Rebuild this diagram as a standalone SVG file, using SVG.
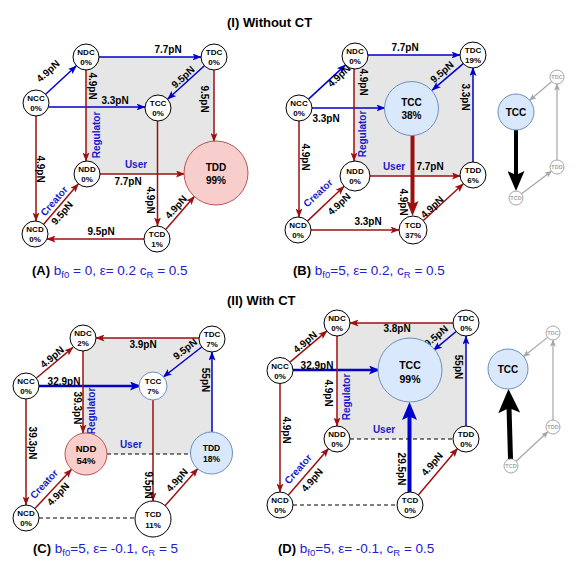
<svg xmlns="http://www.w3.org/2000/svg" width="581" height="571" viewBox="0 0 581 571">
<defs>
<style>
.bg{fill:#fff}
.sh{fill:#e6e6e6;stroke:none}
.n{fill:#fff;stroke:#000;stroke-width:1}
.np{fill:#f8cecc;stroke:#b85450;stroke-width:1}
.nb{fill:#dae8fc;stroke:#6c8ebf;stroke-width:1}
.nw{fill:#fff;stroke:#6c8ebf;stroke-width:1}
.ng{fill:#fff;stroke:#a6a6a6;stroke-width:1}
.nl{font-family:"Liberation Sans",Arial,sans-serif;font-weight:bold;font-size:8px;text-anchor:middle;fill:#000}
.nL{font-family:"Liberation Sans",Arial,sans-serif;font-weight:bold;font-size:10px;text-anchor:middle;fill:#000}
.ngl{font-family:"Liberation Sans",Arial,sans-serif;font-weight:bold;font-size:5.5px;text-anchor:middle;dominant-baseline:central;fill:#a6a6a6}
.t{font-family:"Liberation Sans",Arial,sans-serif;font-weight:bold;font-size:10px;text-anchor:middle;dominant-baseline:central;fill:#000}
.ro{font-family:"Liberation Sans",Arial,sans-serif;font-weight:bold;font-size:10px;text-anchor:middle;dominant-baseline:central;fill:#1a1acc}
.ti{font-family:"Liberation Sans",Arial,sans-serif;font-weight:bold;font-size:13px;fill:#000}
.cap{font-family:"Liberation Sans",Arial,sans-serif;font-size:13.5px;fill:#2020d0}
.capk{font-weight:bold;font-size:13px;fill:#000}
.sub{font-size:9.5px}
.r{stroke:#9c1010;stroke-width:1.5;fill:none;marker-end:url(#ar)}
.b{stroke:#0000cc;stroke-width:1.5;fill:none;marker-end:url(#ab)}
.b2{stroke:#0000cc;stroke-width:2.5;fill:none;marker-end:url(#ab2)}
.rT{stroke:#9c1010;stroke-width:4;fill:none;marker-end:url(#arL)}
.bT{stroke:#0000cc;stroke-width:4;fill:none;marker-end:url(#abL)}
.kT{stroke:#000;stroke-width:4;fill:none;marker-end:url(#akL)}
.kT2{stroke:#000;stroke-width:5;fill:none;marker-end:url(#akL2)}
.g{stroke:#a6a6a6;stroke-width:1.2;fill:none;marker-end:url(#ag)}
.d{stroke:#000;stroke-width:1.2;stroke-dasharray:4 3;fill:none}
</style>
<marker id="ar" viewBox="0 0 9 7" refX="8.5" refY="3.5" markerWidth="9" markerHeight="7" markerUnits="userSpaceOnUse" orient="auto"><path d="M0,0 L9,3.5 L0,7 L2,3.5 z" fill="#9c1010"/></marker>
<marker id="ab" viewBox="0 0 9 7" refX="8.5" refY="3.5" markerWidth="9" markerHeight="7" markerUnits="userSpaceOnUse" orient="auto"><path d="M0,0 L9,3.5 L0,7 L2,3.5 z" fill="#0000cc"/></marker>
<marker id="ab2" viewBox="0 0 11 9" refX="9" refY="4.5" markerWidth="11" markerHeight="9" markerUnits="userSpaceOnUse" orient="auto"><path d="M0,0 L11,4.5 L0,9 L2.5,4.5 z" fill="#0000cc"/></marker>
<marker id="ag" viewBox="0 0 7 6" refX="6.5" refY="3" markerWidth="7" markerHeight="6" markerUnits="userSpaceOnUse" orient="auto"><path d="M0,0 L7,3 L0,6 L1.5,3 z" fill="#a6a6a6"/></marker>
<marker id="arL" viewBox="0 0 15 12" refX="4" refY="6" markerWidth="15" markerHeight="12" markerUnits="userSpaceOnUse" orient="auto"><path d="M0,0 L15,6 L0,12 L3,6 z" fill="#9c1010"/></marker>
<marker id="abL" viewBox="0 0 18 15" refX="5" refY="7.5" markerWidth="18" markerHeight="15" markerUnits="userSpaceOnUse" orient="auto"><path d="M0,0 L18,7.5 L0,15 L3.5,7.5 z" fill="#0000cc"/></marker>
<marker id="akL" viewBox="0 0 20 17" refX="5" refY="8.5" markerWidth="20" markerHeight="17" markerUnits="userSpaceOnUse" orient="auto"><path d="M0,0 L20,8.5 L0,17 L4,8.5 z" fill="#000"/></marker>
<marker id="akL2" viewBox="0 0 24 22" refX="6" refY="11" markerWidth="24" markerHeight="22" markerUnits="userSpaceOnUse" orient="auto"><path d="M0,0 L24,11 L0,22 L5,11 z" fill="#000"/></marker>
</defs>
<rect class="bg" x="0" y="0" width="581" height="571"/>

<!-- titles and captions -->
<text class="ti" x="227" y="27">(I) Without CT</text>
<text class="ti" x="227" y="305">(II) With CT</text>
<text class="cap" x="32" y="275"><tspan class="capk">(A)</tspan> b<tspan class="sub" dy="3">f0</tspan><tspan dy="-3"> = 0, ε= 0.2 c</tspan><tspan class="sub" dy="3">R</tspan><tspan dy="-3"> = 0.5</tspan></text>
<text class="cap" x="293" y="275"><tspan class="capk">(B)</tspan> b<tspan class="sub" dy="3">f0</tspan><tspan dy="-3">=5, ε= 0.2, c</tspan><tspan class="sub" dy="3">R</tspan><tspan dy="-3"> = 0.5</tspan></text>
<text class="cap" x="33" y="553"><tspan class="capk">(C)</tspan> b<tspan class="sub" dy="3">f0</tspan><tspan dy="-3">=5, ε= -0.1, c</tspan><tspan class="sub" dy="3">R</tspan><tspan dy="-3"> = 5</tspan></text>
<text class="cap" x="278" y="553"><tspan class="capk">(D)</tspan> b<tspan class="sub" dy="3">f0</tspan><tspan dy="-3">=5, ε= -0.1, c</tspan><tspan class="sub" dy="3">R</tspan><tspan dy="-3"> = 0.5</tspan></text>

<!-- shaded faces -->
<rect class="sh" x="86" y="57" width="128" height="117"/>
<rect class="sh" x="354" y="55" width="119" height="121"/>
<rect class="sh" x="83" y="338" width="129" height="116"/>
<rect class="sh" x="337" y="323" width="129" height="116"/>

<g id="connectors">
<!-- Panel A -->
<line class="b" x1="45.6" y1="94.2" x2="76.4" y2="65.8"/>
<line class="b" x1="99" y1="57" x2="201" y2="57"/>
<line class="b" x1="204.4" y1="65.8" x2="167.6" y2="99.2"/>
<line class="b" x1="48.5" y1="107" x2="145" y2="107"/>
<line class="r" x1="86" y1="70" x2="86" y2="161"/>
<line class="r" x1="214" y1="70" x2="214" y2="141.5"/>
<line class="r" x1="36" y1="115" x2="36" y2="221"/>
<line class="r" x1="157.5" y1="121" x2="157.5" y2="226"/>
<line class="r" x1="100" y1="174" x2="184.5" y2="174"/>
<line class="r" x1="43.6" y1="224.2" x2="78.4" y2="183.8"/>
<line class="r" x1="144" y1="239" x2="47" y2="239"/>
<line class="r" x1="165.7" y1="229.4" x2="194.5" y2="196.3"/>
<!-- Panel B -->
<line class="b" x1="308.5" y1="99.1" x2="345.5" y2="64.9"/>
<line class="b" x1="368" y1="55" x2="460" y2="55"/>
<line class="b" x1="463.3" y1="63.6" x2="432.2" y2="90.1"/>
<line class="b" x1="312" y1="108" x2="385" y2="108"/>
<line class="r" x1="354" y1="69" x2="354" y2="161"/>
<line class="b" x1="473" y1="162.5" x2="473" y2="67.5"/>
<line class="rT" x1="412.5" y1="135" x2="412.5" y2="205"/>
<line class="r" x1="299" y1="121" x2="299" y2="217"/>
<line class="r" x1="370" y1="176" x2="460.5" y2="176"/>
<line class="r" x1="307.4" y1="221.1" x2="344.1" y2="186.3"/>
<line class="r" x1="311" y1="230" x2="399" y2="230"/>
<line class="r" x1="423.3" y1="220.5" x2="463.4" y2="183.8"/>
<!-- Side I -->
<line class="g" x1="551.7" y1="81.5" x2="529.7" y2="100.3"/>
<line class="g" x1="557" y1="160" x2="557" y2="84"/>
<line class="g" x1="521.6" y1="193.8" x2="551.4" y2="171.2"/>
<line class="kT" x1="516" y1="130" x2="516" y2="176"/>
<!-- Panel C -->
<line class="r" x1="36.5" y1="378" x2="73" y2="347.4"/>
<line class="r" x1="199" y1="338" x2="96" y2="338"/>
<line class="b" x1="201.7" y1="347" x2="163.3" y2="377"/>
<line class="b2" x1="39" y1="386" x2="139" y2="386"/>
<line class="r" x1="83" y1="351" x2="83" y2="433"/>
<line class="b" x1="212" y1="432" x2="212" y2="352"/>
<line class="r" x1="153" y1="400" x2="153" y2="501"/>
<line class="r" x1="26" y1="399" x2="26" y2="505"/>
<line class="d" x1="107" y1="454" x2="191" y2="454"/>
<line class="r" x1="34.9" y1="508.5" x2="71.6" y2="469.3"/>
<line class="d" x1="39" y1="518" x2="135" y2="518"/>
<line class="r" x1="165.1" y1="505.7" x2="197.9" y2="468.5"/>
<!-- Panel D -->
<line class="r" x1="290" y1="362.1" x2="327" y2="330.9"/>
<line class="r" x1="453" y1="323" x2="350" y2="323"/>
<line class="b" x1="456.1" y1="331.5" x2="433.5" y2="350.3"/>
<line class="b2" x1="293" y1="370" x2="378" y2="370"/>
<line class="r" x1="337" y1="336" x2="337" y2="426"/>
<line class="b" x1="466" y1="426" x2="466" y2="336"/>
<line class="bT" x1="409.5" y1="492" x2="409.5" y2="415"/>
<line class="r" x1="280" y1="383.5" x2="280" y2="492"/>
<line class="d" x1="350" y1="439" x2="453" y2="439"/>
<line class="r" x1="288.4" y1="495.1" x2="328.6" y2="448.4"/>
<line class="d" x1="293" y1="505" x2="397" y2="505"/>
<line class="r" x1="418.4" y1="495.1" x2="457.6" y2="448.4"/>
<!-- Side II -->
<line class="g" x1="547.5" y1="337.4" x2="523.6" y2="356.5"/>
<line class="g" x1="553" y1="420" x2="553" y2="340"/>
<line class="g" x1="516.1" y1="461.2" x2="547.9" y2="431.8"/>
<line class="kT2" x1="510.5" y1="459" x2="509" y2="407"/>

<!-- edge labels A -->
<text class="t" transform="rotate(-42 48 71)" x="48" y="71">4.9pN</text>
<text class="t" x="168" y="49">7.7pN</text>
<text class="t" transform="rotate(-42 183 77)" x="183" y="77">9.5pN</text>
<text class="t" x="115" y="100">3.3pN</text>
<text class="t" transform="rotate(90 92 86)" x="92" y="86">4.9pN</text>
<text class="ro" transform="rotate(-90 96 135)" x="96" y="135">Regulator</text>
<text class="t" transform="rotate(90 204 99)" x="204" y="99">9.5pN</text>
<text class="t" transform="rotate(90 40 169)" x="40" y="169">4.9pN</text>
<text class="ro" x="136" y="164">User</text>
<text class="t" x="128" y="181">7.7pN</text>
<text class="t" transform="rotate(90 150 200)" x="150" y="200">4.9pN</text>
<text class="ro" transform="rotate(-49 54 201)" x="54" y="201">Creator</text>
<text class="t" transform="rotate(-49 62 213)" x="62" y="213">9.5pN</text>
<text class="t" x="101" y="231">9.5pN</text>
<text class="t" transform="rotate(-48 176 207)" x="176" y="207">4.9pN</text>
<!-- edge labels B -->
<text class="t" transform="rotate(-43 339 76)" x="339" y="76">4.9pN</text>
<text class="t" x="405" y="47">7.7pN</text>
<text class="t" transform="rotate(-41 442 72)" x="442" y="72">9.5pN</text>
<text class="t" x="326" y="118">3.3pN</text>
<text class="t" transform="rotate(90 363 82)" x="363" y="82">4.9pN</text>
<text class="ro" transform="rotate(-90 362 134)" x="362" y="134">Regulator</text>
<text class="t" transform="rotate(90 465 97)" x="465" y="97">3.3pN</text>
<text class="t" transform="rotate(90 305 157)" x="305" y="157">4.9pN</text>
<text class="ro" x="394" y="166">User</text>
<text class="t" x="430" y="166">7.7pN</text>
<text class="ro" transform="rotate(-43 318 193)" x="318" y="193">Creator</text>
<text class="t" transform="rotate(-43 339 204)" x="339" y="204">4.9pN</text>
<text class="t" x="368" y="221">3.3pN</text>
<text class="t" transform="rotate(90 403 202)" x="403" y="202">4.9pN</text>
<text class="t" transform="rotate(-43 432 207)" x="432" y="207">4.9pN</text>
<!-- edge labels C -->
<text class="t" transform="rotate(-40 52 357)" x="52" y="357">4.9pN</text>
<text class="t" x="143" y="344">3.9pN</text>
<text class="t" transform="rotate(-38 185 349)" x="185" y="349">9.5pN</text>
<text class="t" x="64" y="381">32.9pN</text>
<text class="t" transform="rotate(90 77 408)" x="77" y="408">39.3pN</text>
<text class="ro" transform="rotate(-90 91 411)" x="91" y="411">Regulator</text>
<text class="t" transform="rotate(90 205 380)" x="205" y="380">55pN</text>
<text class="t" transform="rotate(90 32 443)" x="32" y="443">39.3pN</text>
<text class="ro" x="131" y="444">User</text>
<text class="t" transform="rotate(90 148 485)" x="148" y="485">9.5pN</text>
<text class="ro" transform="rotate(-47 44 484)" x="44" y="484">Creator</text>
<text class="t" transform="rotate(-47 58 494)" x="58" y="494">4.9pN</text>
<text class="t" transform="rotate(-48 177 480)" x="177" y="480">4.9pN</text>
<!-- edge labels D -->
<text class="t" transform="rotate(-40 305 342)" x="305" y="342">4.9pN</text>
<text class="t" x="397" y="328">3.8pN</text>
<text class="t" transform="rotate(-40 436 336)" x="436" y="336">9.5pN</text>
<text class="t" x="317" y="365">32.9pN</text>
<text class="t" transform="rotate(90 328 393)" x="328" y="393">4.9pN</text>
<text class="ro" transform="rotate(-90 346 397)" x="346" y="397">Regulator</text>
<text class="t" transform="rotate(90 458 367)" x="458" y="367">55pN</text>
<text class="t" transform="rotate(90 286 430)" x="286" y="430">4.9pN</text>
<text class="ro" x="384" y="429">User</text>
<text class="t" transform="rotate(90 401 469)" x="401" y="469">29.5pN</text>
<text class="ro" transform="rotate(-49 298 469)" x="298" y="469">Creator</text>
<text class="t" transform="rotate(-49 312 480)" x="312" y="480">4.9pN</text>
<text class="t" transform="rotate(-49 432 464)" x="432" y="464">4.9pN</text>
</g>

<!-- Panel A nodes -->
<g id="A-NCC"><circle class="n" cx="36" cy="103" r="13"/><text class="nl" x="36" y="101">NCC</text><text class="nl" x="36" y="111">0%</text></g>
<g id="A-NDC"><circle class="n" cx="86" cy="57" r="13"/><text class="nl" x="86" y="55">NDC</text><text class="nl" x="86" y="65">0%</text></g>
<g id="A-TDC"><circle class="n" cx="214" cy="57" r="13"/><text class="nl" x="214" y="55">TDC</text><text class="nl" x="214" y="65">0%</text></g>
<g id="A-TCC"><circle class="n" cx="158" cy="108" r="13"/><text class="nl" x="158" y="106">TCC</text><text class="nl" x="158" y="116">0%</text></g>
<g id="A-NDD"><circle class="n" cx="87" cy="174" r="13"/><text class="nl" x="87" y="172">NDD</text><text class="nl" x="87" y="182">0%</text></g>
<g id="A-TDD"><circle class="np" cx="216" cy="173" r="32"/><text class="nL" x="216" y="171">TDD</text><text class="nL" x="216" y="184">99%</text></g>
<g id="A-NCD"><circle class="n" cx="35" cy="234" r="13"/><text class="nl" x="35" y="232">NCD</text><text class="nl" x="35" y="242">0%</text></g>
<g id="A-TCD"><circle class="n" cx="157" cy="239" r="13"/><text class="nl" x="157" y="237">TCD</text><text class="nl" x="157" y="247">1%</text></g>

<!-- Panel B nodes -->
<g id="B-NCC"><circle class="n" cx="299" cy="108" r="13"/><text class="nl" x="299" y="106">NCC</text><text class="nl" x="299" y="116">0%</text></g>
<g id="B-NDC"><circle class="n" cx="355" cy="56" r="13"/><text class="nl" x="355" y="54">NDC</text><text class="nl" x="355" y="64">0%</text></g>
<g id="B-TDC"><circle class="n" cx="473" cy="55" r="13"/><text class="nl" x="473" y="53">TDC</text><text class="nl" x="473" y="63">19%</text></g>
<g id="B-TCC"><circle class="nb" cx="411.5" cy="108.5" r="27"/><text class="nL" x="411.5" y="106">TCC</text><text class="nL" x="411.5" y="118.5">38%</text></g>
<g id="B-NDD"><circle class="n" cx="355" cy="176" r="15"/><text class="nl" x="355" y="174">NDD</text><text class="nl" x="355" y="184">0%</text></g>
<g id="B-TDD"><circle class="n" cx="473" cy="175" r="13"/><text class="nl" x="473" y="173">TDD</text><text class="nl" x="473" y="183">6%</text></g>
<g id="B-NCD"><circle class="n" cx="298" cy="230" r="13"/><text class="nl" x="298" y="228">NCD</text><text class="nl" x="298" y="238">0%</text></g>
<g id="B-TCD"><circle class="n" cx="413" cy="230" r="14"/><text class="nl" x="413" y="228">TCD</text><text class="nl" x="413" y="238">37%</text></g>

<!-- Side I nodes -->
<g id="S1-TCC"><circle class="nb" cx="516" cy="112" r="18"/><text class="nL" x="516" y="115.5">TCC</text></g>
<g id="S1-TDC"><circle class="ng" cx="557" cy="77" r="7"/><text class="ngl" x="557" y="77">TDC</text></g>
<g id="S1-TDD"><circle class="ng" cx="557" cy="167" r="7"/><text class="ngl" x="557" y="167">TDD</text></g>
<g id="S1-TCD"><circle class="ng" cx="516" cy="198" r="7"/><text class="ngl" x="516" y="198">TCD</text></g>

<!-- Panel C nodes -->
<g id="C-NCC"><circle class="n" cx="26" cy="386" r="13"/><text class="nl" x="26" y="384">NCC</text><text class="nl" x="26" y="394">0%</text></g>
<g id="C-NDC"><circle class="n" cx="83" cy="338" r="13"/><text class="nl" x="83" y="336">NDC</text><text class="nl" x="83" y="346">2%</text></g>
<g id="C-TDC"><circle class="n" cx="212" cy="339" r="13"/><text class="nl" x="212" y="337">TDC</text><text class="nl" x="212" y="347">7%</text></g>
<g id="C-TCC"><circle class="nw" cx="153" cy="386" r="14"/><text class="nl" x="153" y="384">TCC</text><text class="nl" x="153" y="394">7%</text></g>
<g id="C-NDD"><circle class="np" cx="86" cy="454" r="21"/><text class="nL" x="86" y="452" style="font-size:9.5px">NDD</text><text class="nL" x="86" y="464" style="font-size:9.5px">54%</text></g>
<g id="C-TDD"><circle class="nb" cx="211.5" cy="453" r="21"/><text class="nl" x="211.5" y="451" style="font-size:8.5px">TDD</text><text class="nl" x="211.5" y="462" style="font-size:8.5px">18%</text></g>
<g id="C-NCD"><circle class="n" cx="26" cy="518" r="13"/><text class="nl" x="26" y="516">NCD</text><text class="nl" x="26" y="526">0%</text></g>
<g id="C-TCD"><circle class="n" cx="153" cy="519" r="18"/><text class="nl" x="153" y="517">TCD</text><text class="nl" x="153" y="528">11%</text></g>

<!-- Panel D nodes -->
<g id="D-NCC"><circle class="n" cx="280" cy="370.5" r="13"/><text class="nl" x="280" y="368.5">NCC</text><text class="nl" x="280" y="378.5">0%</text></g>
<g id="D-NDC"><circle class="n" cx="337" cy="323" r="13"/><text class="nl" x="337" y="321">NDC</text><text class="nl" x="337" y="331">0%</text></g>
<g id="D-TDC"><circle class="n" cx="466" cy="323" r="13"/><text class="nl" x="466" y="321">TDC</text><text class="nl" x="466" y="331">0%</text></g>
<g id="D-TCC"><circle class="nb" cx="410" cy="370" r="32"/><text class="nL" x="410" y="369" style="font-size:10.5px">TCC</text><text class="nL" x="410" y="382.5" style="font-size:10.5px">99%</text></g>
<g id="D-NDD"><circle class="n" cx="337" cy="439" r="13"/><text class="nl" x="337" y="437">NDD</text><text class="nl" x="337" y="447">0%</text></g>
<g id="D-TDD"><circle class="n" cx="466" cy="439" r="13"/><text class="nl" x="466" y="437">TDD</text><text class="nl" x="466" y="447">0%</text></g>
<g id="D-NCD"><circle class="n" cx="280" cy="505" r="13"/><text class="nl" x="280" y="503">NCD</text><text class="nl" x="280" y="513">0%</text></g>
<g id="D-TCD"><circle class="n" cx="410" cy="505" r="13"/><text class="nl" x="410" y="503">TCD</text><text class="nl" x="410" y="513">0%</text></g>

<!-- Side II nodes -->
<g id="S2-TCC"><circle class="nb" cx="508" cy="369" r="20"/><text class="nL" x="508" y="372.5">TCC</text></g>
<g id="S2-TDC"><circle class="ng" cx="553" cy="333" r="7"/><text class="ngl" x="553" y="333">TDC</text></g>
<g id="S2-TDD"><circle class="ng" cx="553" cy="427" r="7"/><text class="ngl" x="553" y="427">TDD</text></g>
<g id="S2-TCD"><circle class="ng" cx="511" cy="466" r="7"/><text class="ngl" x="511" y="466">TCD</text></g>
</svg>
